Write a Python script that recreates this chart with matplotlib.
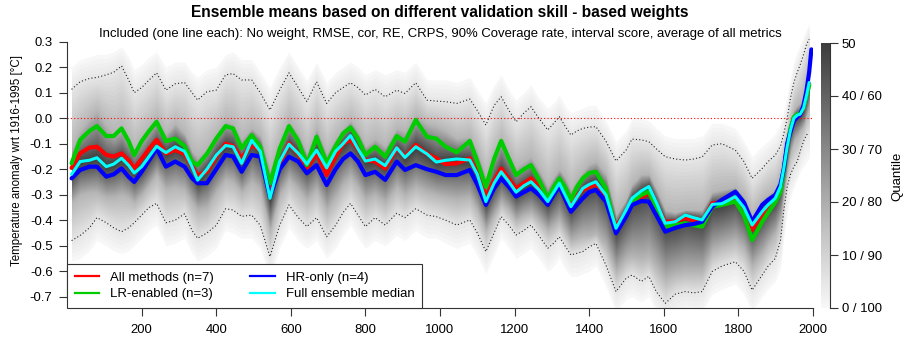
import numpy as np
import matplotlib
matplotlib.use("Agg")
import matplotlib.pyplot as plt
from matplotlib.lines import Line2D

plt.rcParams['font.family'] = ['Liberation Sans', 'DejaVu Sans']

nan = np.nan
years = [12, 35, 60, 80, 105, 125, 146, 165, 180, 200,
         220, 240, 265, 290, 315, 335, 350, 375, 400, 425,
         445, 468, 495, 518, 544, 570, 595, 620, 643, 669,
         696, 720, 740, 760, 780, 800, 826, 853, 884, 906,
         935, 965, 990, 1015, 1045, 1080, 1100, 1123, 1145, 1164,
         1185, 1204, 1225, 1244, 1265, 1289, 1305, 1320, 1335, 1351,
         1367, 1383, 1400, 1418, 1445, 1472, 1499, 1515, 1540, 1560,
         1580, 1604, 1631, 1658, 1680, 1703, 1730, 1756, 1792, 1815,
         1837, 1864, 1880, 1899, 1913, 1922, 1931, 1940, 1949, 1958,
         1966, 1975, 1983, 1990, 1996]

median = [-0.22, -0.17, -0.165, -0.155, -0.19, -0.18, -0.157, -0.185, -0.215, -0.19,
          -0.15, -0.11, -0.135, -0.112, -0.13, -0.19, -0.243, -0.2, -0.145, -0.107,
          -0.112, -0.177, -0.087, -0.13, -0.314, -0.17, -0.102, -0.138, -0.18, -0.125,
          -0.195, -0.13, -0.1, -0.068, -0.12, -0.168, -0.16, -0.186, -0.116, -0.154,
          -0.112, -0.14, -0.172, -0.165, -0.16, -0.164, -0.22, -0.327, -0.255, -0.21,
          -0.25, -0.29, -0.265, -0.249, -0.28, -0.327, -0.29, -0.255, -0.3, -0.347,
          -0.31, -0.275, -0.26, -0.249, -0.301, -0.432, -0.36, -0.314, -0.285, -0.268,
          -0.33, -0.412, -0.406, -0.38, -0.39, -0.399, -0.338, -0.335, -0.308, -0.35,
          -0.419, -0.366, -0.34, -0.314, -0.268, -0.197, -0.112, -0.046, 0.0, 0.012,
          0.016, 0.04, 0.09, 0.14, nan]

all_methods = [-0.195, -0.138, -0.115, -0.112, -0.144, -0.15, -0.138, -0.165, -0.197, -0.16,
               -0.12, -0.085, -0.138, -0.125, -0.14, -0.19, -0.223, -0.21, -0.15, -0.1,
               -0.11, -0.157, -0.105, -0.125, -0.295, -0.18, -0.099, -0.14, -0.197, -0.138,
               -0.223, -0.15, -0.1, -0.085, -0.12, -0.164, -0.17, -0.197, -0.118, -0.151,
               -0.105, -0.14, -0.157, -0.18, -0.177, -0.157, -0.215, -0.307, -0.245, -0.197,
               -0.24, -0.275, -0.255, -0.236, -0.27, -0.32, -0.285, -0.255, -0.29, -0.334,
               -0.305, -0.281, -0.27, -0.259, -0.314, -0.425, -0.367, -0.334, -0.31, -0.295,
               -0.34, -0.406, -0.405, -0.392, -0.4, -0.406, -0.334, -0.33, -0.314, -0.36,
               -0.438, -0.38, -0.35, -0.32, -0.275, -0.2, -0.11, -0.045, 0.0, 0.012,
               0.016, 0.04, 0.09, 0.135, nan]

lr_enabled = [-0.177, -0.085, -0.05, -0.031, -0.07, -0.07, -0.04, -0.09, -0.145, -0.09,
              -0.05, -0.014, -0.09, -0.08, -0.11, -0.17, -0.184, -0.14, -0.08, -0.031,
              -0.04, -0.118, -0.066, -0.112, -0.256, -0.12, -0.031, -0.09, -0.184, -0.073,
              -0.177, -0.11, -0.06, -0.036, -0.08, -0.144, -0.112, -0.151, -0.07, -0.092,
              -0.007, -0.073, -0.08, -0.112, -0.134, -0.089, -0.17, -0.269, -0.16, -0.089,
              -0.16, -0.223, -0.2, -0.184, -0.24, -0.314, -0.27, -0.236, -0.27, -0.32,
              -0.27, -0.236, -0.215, -0.21, -0.275, -0.445, -0.367, -0.327, -0.3, -0.288,
              -0.35, -0.425, -0.42, -0.412, -0.42, -0.425, -0.347, -0.34, -0.327, -0.38,
              -0.478, -0.406, -0.37, -0.33, -0.29, -0.21, -0.11, -0.04, 0.005, 0.015,
              0.02, 0.04, 0.085, 0.13, nan]

hr_only = [-0.236, -0.203, -0.19, -0.19, -0.229, -0.22, -0.197, -0.23, -0.25, -0.21,
           -0.165, -0.118, -0.19, -0.17, -0.19, -0.235, -0.255, -0.255, -0.2, -0.144,
           -0.15, -0.21, -0.144, -0.151, -0.307, -0.2, -0.151, -0.17, -0.216, -0.184,
           -0.262, -0.2, -0.16, -0.138, -0.17, -0.223, -0.21, -0.242, -0.17, -0.203,
           -0.184, -0.2, -0.21, -0.223, -0.223, -0.203, -0.26, -0.34, -0.275, -0.236,
           -0.27, -0.307, -0.29, -0.275, -0.3, -0.34, -0.3, -0.268, -0.315, -0.367,
           -0.34, -0.314, -0.29, -0.281, -0.327, -0.451, -0.386, -0.34, -0.325, -0.327,
           -0.38, -0.445, -0.43, -0.419, -0.415, -0.406, -0.347, -0.32, -0.288, -0.33,
           -0.406, -0.34, -0.32, -0.301, -0.26, -0.2, -0.1, -0.053, -0.01, 0.005,
           0.015, 0.05, 0.11, 0.18, 0.27]

q95 = [0.113, 0.143, 0.156, 0.16, 0.17, 0.18, 0.205, 0.15, 0.1, 0.12,
       0.15, 0.178, 0.11, 0.135, 0.14, 0.1, 0.071, 0.104, 0.11, 0.17,
       0.175, 0.15, 0.15, 0.1, 0.032, 0.11, 0.178, 0.12, 0.065, 0.143,
       0.058, 0.1, 0.12, 0.139, 0.12, 0.091, 0.113, 0.084, 0.11, 0.097,
       0.139, 0.071, 0.067, 0.065, 0.058, 0.075, 0.03, -0.027, 0.05, 0.084,
       0.03, -0.014, 0.02, 0.045, 0.0, -0.046, -0.02, 0.006, -0.03, -0.066,
       -0.05, -0.04, -0.035, -0.033, -0.09, -0.168, -0.125, -0.082, -0.085, -0.092,
       -0.12, -0.151, -0.16, -0.164, -0.16, -0.152, -0.105, -0.1, -0.125, -0.17,
       -0.236, -0.197, -0.17, -0.145, -0.11, -0.06, 0.0, 0.08, 0.14, 0.18,
       0.21, 0.25, 0.29, 0.31, nan]

q05 = [-0.48, -0.46, -0.43, -0.39, -0.41, -0.43, -0.445, -0.43, -0.41, -0.38,
       -0.35, -0.334, -0.41, -0.4, -0.375, -0.44, -0.471, -0.45, -0.42, -0.355,
       -0.36, -0.385, -0.38, -0.42, -0.543, -0.42, -0.34, -0.39, -0.425, -0.39,
       -0.465, -0.42, -0.37, -0.334, -0.38, -0.425, -0.39, -0.419, -0.373, -0.39,
       -0.355, -0.38, -0.386, -0.4, -0.419, -0.399, -0.45, -0.523, -0.45, -0.386,
       -0.42, -0.458, -0.44, -0.419, -0.46, -0.51, -0.49, -0.465, -0.5, -0.536,
       -0.53, -0.523, -0.505, -0.491, -0.576, -0.68, -0.628, -0.615, -0.64, -0.62,
       -0.68, -0.726, -0.69, -0.68, -0.685, -0.68, -0.601, -0.58, -0.563, -0.6,
       -0.674, -0.615, -0.58, -0.55, -0.48, -0.36, -0.27, -0.22, -0.19, -0.17,
       -0.13, -0.09, -0.065, -0.06, nan]

q_core_hi = [-0.12, -0.05, 0.0, 0.03, -0.03, -0.06, -0.04, -0.08, -0.12, -0.08,
             -0.04, 0.0, -0.06, -0.02, -0.06, -0.13, -0.15, -0.12, -0.06, -0.01,
             -0.02, -0.08, -0.04, -0.07, -0.2, -0.09, -0.01, -0.06, -0.14, -0.04,
             -0.14, -0.08, -0.04, -0.01, -0.05, -0.11, -0.08, -0.11, -0.04, -0.05,
             0.01, -0.02, -0.03, -0.05, -0.08, -0.07, -0.13, -0.23, -0.14, -0.08,
             -0.14, -0.19, -0.17, -0.15, -0.2, -0.27, -0.23, -0.2, -0.23, -0.28,
             -0.24, -0.21, -0.18, -0.17, -0.22, -0.38, -0.32, -0.26, -0.22, -0.22,
             -0.28, -0.36, -0.37, -0.36, -0.36, -0.36, -0.29, -0.28, -0.27, -0.31,
             -0.38, -0.32, -0.3, -0.28, -0.23, -0.16, -0.08, -0.01, 0.03, 0.05,
             0.06, 0.09, 0.14, 0.19, nan]

q_core_lo = [-0.33, -0.3, -0.29, -0.29, -0.31, -0.31, -0.3, -0.31, -0.33, -0.3,
             -0.26, -0.22, -0.28, -0.27, -0.28, -0.33, -0.36, -0.35, -0.29, -0.24,
             -0.25, -0.29, -0.25, -0.28, -0.44, -0.3, -0.24, -0.28, -0.32, -0.28,
             -0.36, -0.31, -0.26, -0.23, -0.27, -0.32, -0.3, -0.33, -0.27, -0.3,
             -0.27, -0.29, -0.3, -0.31, -0.32, -0.31, -0.36, -0.44, -0.38, -0.33,
             -0.36, -0.4, -0.38, -0.37, -0.4, -0.44, -0.42, -0.4, -0.44, -0.48,
             -0.47, -0.46, -0.46, -0.45, -0.5, -0.6, -0.55, -0.54, -0.55, -0.54,
             -0.58, -0.63, -0.61, -0.6, -0.6, -0.6, -0.52, -0.5, -0.48, -0.51,
             -0.58, -0.53, -0.49, -0.45, -0.39, -0.29, -0.2, -0.13, -0.09, -0.07,
             -0.05, -0.03, 0.01, 0.05, nan]

q100 = [0.2, 0.23, 0.24, 0.25, 0.25, 0.26, 0.28, 0.24, 0.19, 0.21,
        0.24, 0.26, 0.2, 0.22, 0.22, 0.18, 0.16, 0.19, 0.2, 0.25,
        0.26, 0.23, 0.23, 0.18, 0.12, 0.2, 0.26, 0.2, 0.15, 0.22,
        0.14, 0.18, 0.2, 0.22, 0.2, 0.17, 0.19, 0.17, 0.19, 0.18,
        0.22, 0.15, 0.15, 0.15, 0.14, 0.16, 0.11, 0.06, 0.13, 0.17,
        0.11, 0.07, 0.1, 0.13, 0.08, 0.04, 0.06, 0.09, 0.05, 0.02,
        0.03, 0.04, 0.05, 0.05, -0.01, -0.09, -0.05, 0.0, 0.0, -0.01,
        -0.04, -0.07, -0.08, -0.08, -0.08, -0.07, -0.02, -0.02, -0.04, -0.09,
        -0.15, -0.11, -0.09, -0.06, -0.02, 0.03, 0.09, 0.16, 0.22, 0.26,
        0.29, 0.32, 0.35, 0.37, nan]

q00 = [-0.56, -0.55, -0.52, -0.48, -0.5, -0.52, -0.53, -0.52, -0.5, -0.47,
       -0.44, -0.42, -0.5, -0.49, -0.47, -0.53, -0.56, -0.54, -0.51, -0.44,
       -0.45, -0.47, -0.47, -0.51, -0.63, -0.51, -0.43, -0.48, -0.51, -0.48,
       -0.55, -0.51, -0.46, -0.42, -0.47, -0.51, -0.48, -0.5, -0.46, -0.48,
       -0.44, -0.47, -0.47, -0.49, -0.51, -0.49, -0.54, -0.61, -0.54, -0.47,
       -0.51, -0.55, -0.53, -0.51, -0.55, -0.6, -0.58, -0.55, -0.59, -0.62,
       -0.62, -0.61, -0.6, -0.58, -0.66, -0.76, -0.71, -0.7, -0.72, -0.7,
       -0.76, -0.8, -0.77, -0.76, -0.77, -0.76, -0.69, -0.67, -0.65, -0.69,
       -0.76, -0.7, -0.67, -0.64, -0.59, -0.47, -0.37, -0.31, -0.27, -0.24,
       -0.21, -0.19, -0.17, -0.16, nan]

# quantile level (percent) of each read envelope curve, low to high
quantile_levels = [0, 5, 18, 50, 82, 95, 100]
cbar_ticks = [0, 10, 20, 30, 40, 50]
cbar_labels = ["0 / 100", "10 / 90", "20 / 80", "30 / 70", "40 / 60", "50"]
x_ticks = [200, 400, 600, 800, 1000, 1200, 1400, 1600, 1800, 2000]
y_ticks = [-0.7, -0.6, -0.5, -0.4, -0.3, -0.2, -0.1, 0.0, 0.1, 0.2, 0.3]

title = "Ensemble means based on different validation skill - based weights"
subtitle = ("Included (one line each): No weight, RMSE, cor, RE, CRPS, 90% Coverage rate, "
            "interval score, average of all metrics")
ylabel = "Temperature anomaly wrt 1916-1995 [°C]"
legend_labels = ["All methods (n=7)", "LR-enabled (n=3)", "HR-only (n=4)", "Full ensemble median"]
line_colors = ["#ff0000", "#00cd00", "#0000ff", "#00ffff"]

FS = 9.45


def gray_of(p):
    g = 0.975 - (0.975 - 0.24) * (p / 50.0)
    return (g, g, g)


W, H = 908, 345
fig = plt.figure(figsize=(W / 100, H / 100), dpi=100)
ax_l, ax_r, ax_b, ax_t = 67.1, 812.9, 308, 20
ax = fig.add_axes([ax_l / W, 1 - ax_b / H, (ax_r - ax_l) / W, (ax_b - ax_t) / H])
ax.set_xlim(0, 2000)
v_top = 0.3 + (41.7 - ax_t) / 255.0
v_bot = -0.7 - (ax_b - 296.7) / 255.0
ax.set_ylim(v_bot, v_top)

yr = np.array(years, dtype=float)
Q = np.array([q00, q05, q_core_lo, median, q_core_hi, q95, q100], dtype=float)
ok = np.all(np.isfinite(Q), axis=0)
yq = yr[ok]
Qk = Q[:, ok]
lev = np.array(quantile_levels, dtype=float)


def qcurve(p):
    return np.array([np.interp(p, lev, Qk[:, j]) for j in range(Qk.shape[1])])


for p in np.arange(0, 50, 1.0):
    ax.fill_between(yq, qcurve(p), qcurve(100 - p), color=gray_of(p + 0.5),
                    linewidth=0, zorder=1)

ax.plot(yr, q95, color="#222222", ls=(0, (1, 2)), lw=0.8, zorder=2)
ax.plot(yr, q05, color="#222222", ls=(0, (1, 2)), lw=0.8, zorder=2)
ax.axhline(0.0, color="#ff0000", ls=(0, (1, 2)), lw=0.8, zorder=2)

series = [all_methods, lr_enabled, hr_only]
for s, c in zip(series, line_colors[:3]):
    ax.plot(yr, s, color=c, lw=3.0, zorder=3, solid_capstyle="round", solid_joinstyle="round")
ax.plot(yr, median, color=line_colors[3], lw=2.2, zorder=4, solid_capstyle="round",
        solid_joinstyle="round")

for sp in ["top", "right"]:
    ax.spines[sp].set_visible(False)
ax.spines["left"].set_bounds(-0.7, 0.3)
ax.spines["bottom"].set_bounds(200, 2000)
ax.set_xticks(x_ticks)
ax.set_xticklabels([str(t) for t in x_ticks])
ax.set_yticks(y_ticks)
ax.set_yticklabels([f"{t:.1f}" for t in y_ticks])
ax.tick_params(direction="out", length=5.5, width=0.8, labelsize=FS, color="#333333")
ax.tick_params(axis="x", pad=6)
ax.tick_params(axis="y", pad=5)
for sp in ["left", "bottom"]:
    ax.spines[sp].set_color("#333333")
    ax.spines[sp].set_linewidth(0.8)

handles = [Line2D([0], [0], color=c, lw=1.6) for c in line_colors]
leg = ax.legend(handles, legend_labels, ncol=2, loc="lower left", bbox_to_anchor=(0, 0),
                bbox_transform=ax.transAxes, fontsize=FS, frameon=True, fancybox=False,
                borderaxespad=0, handlelength=1.85, columnspacing=2.75, borderpad=0.6,
                labelspacing=0.3, handletextpad=0.85)
leg.get_frame().set_edgecolor("#333333")
leg.get_frame().set_linewidth(0.8)
leg.get_frame().set_alpha(1.0)
leg.set_zorder(10)

fig.text(440 / W, 1 - 12 / H, title, ha="center", va="center", fontsize=11.2, fontweight="bold")
fig.text(440 / W, 1 - 34 / H, subtitle, ha="center", va="center", fontsize=FS)
fig.text(17 / W, 1 - 161 / H, ylabel, ha="center", va="center", rotation=90, fontsize=8.3)

cax = fig.add_axes([821 / W, 1 - 308 / H, 9 / W, (308 - 43) / H])
grad = np.linspace(0, 50, 256).reshape(-1, 1)
cols = np.array([gray_of(p) for p in grad[:, 0]]).reshape(-1, 1, 3)
cax.imshow(cols, aspect="auto", origin="lower", extent=[0, 1, 0, 50])
cax.set_xlim(0, 1)
cax.set_ylim(0, 50)
cax.set_xticks([])
cax.yaxis.tick_right()
cax.set_yticks(cbar_ticks)
cax.set_yticklabels(cbar_labels)
cax.tick_params(axis="y", direction="out", length=5.5, width=0.8, labelsize=FS, pad=3, color="#333333")
for sp in ["left", "top", "bottom"]:
    cax.spines[sp].set_visible(False)
cax.spines["right"].set_color("#333333")
cax.spines["right"].set_linewidth(0.8)
fig.text(897 / W, 1 - 176 / H, "Quantile", ha="center", va="center", rotation=90, fontsize=FS)

fig.savefig("out.png", dpi=100)
